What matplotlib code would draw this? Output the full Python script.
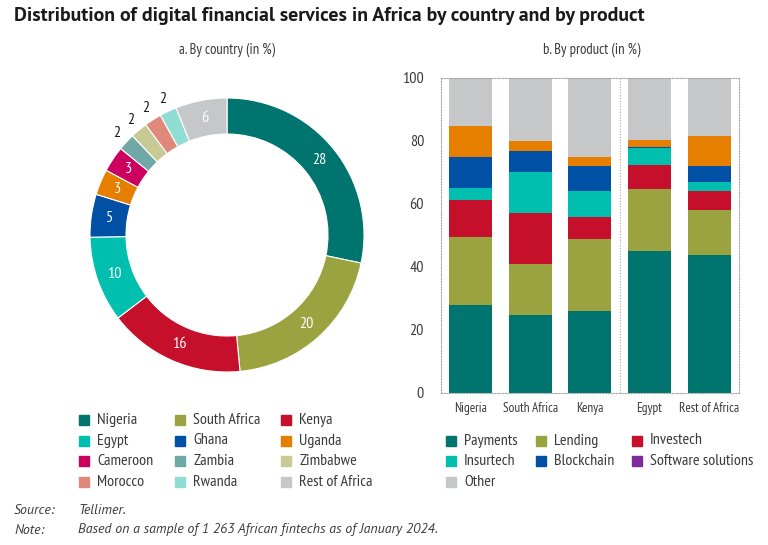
import numpy as np
import matplotlib.pyplot as plt
from matplotlib.patches import Rectangle
from matplotlib import font_manager

names = {f.name for f in font_manager.fontManager.ttflist}


def pick(cands):
    for c in cands:
        if c in names:
            return c
    return 'DejaVu Sans'


FONT = pick(['PT Sans Narrow', 'Roboto Condensed', 'Open Sans Condensed', 'Archivo Narrow',
             'Fira Sans Condensed', 'Liberation Sans Narrow'])
TITLE_FONT = pick(['PT Sans', 'Source Sans 3', 'Source Sans Pro', 'Open Sans'])
plt.rcParams['font.family'] = [FONT, 'DejaVu Sans']

# a. by country
countries = ['Nigeria', 'South Africa', 'Kenya', 'Egypt', 'Ghana', 'Uganda',
             'Cameroon', 'Zambia', 'Zimbabwe', 'Morocco', 'Rwanda', 'Rest of Africa']
country_share = [28, 20, 16, 10, 5, 3, 3, 2, 2, 2, 2, 6]
country_colors = ['#00756f', '#9ba340', '#c50f2b', '#00bfae', '#0050a5', '#e67e00',
                  '#cc005f', '#70a8a7', '#c8ca96', '#e0897a', '#8fddd3', '#c6c7c9']

# b. by product
bar_groups = ['Nigeria', 'South Africa', 'Kenya', 'Egypt', 'Rest of Africa']
products = ['Payments', 'Lending', 'Investech', 'Insurtech', 'Blockchain',
            'Software solutions', 'Other']
payments = [27.8, 24.6, 25.9, 45.0, 43.7]
lending = [21.7, 16.3, 23.0, 19.7, 14.3]
investech = [11.6, 16.2, 7.0, 7.5, 5.9]
insurtech = [4.0, 13.0, 8.1, 5.6, 3.1]
blockchain = [9.6, 6.5, 8.0, 0.3, 5.0]
software = [9.9, 3.2, 2.9, 2.1, 9.6]
other = [15.4, 20.3, 25.1, 19.8, 18.4]
product_series = [payments, lending, investech, insurtech, blockchain, software, other]
# bars use orange for software solutions, the legend key shows purple
bar_colors = ['#00756f', '#9ba340', '#c50f2b', '#00bfae', '#0050a5', '#e67e00', '#c6c7c9']
legend_colors = ['#00756f', '#9ba340', '#c50f2b', '#00bfae', '#0050a5', '#7f2a9b', '#c6c7c9']

W, H = 768, 545
fig = plt.figure(figsize=(W / 100, H / 100), dpi=100)
txt = '#3a3a3a'


def fx(px):
    return px / W


def fy(py):
    return 1 - py / H


fig.text(fx(14), fy(16), 'Distribution of digital financial services in Africa by country and by product',
         fontsize=14.3, fontweight='bold', color='#1a1a1a', va='center', ha='left',
         family=[TITLE_FONT, 'DejaVu Sans'])
fig.text(fx(227), fy(50), 'a. By country (in %)', fontsize=10.5, color=txt, ha='center', va='center')
fig.text(fx(592), fy(50), 'b. By product (in %)', fontsize=10.5, color=txt, ha='center', va='center')

# donut
cx, cy, box = 227, 235, 150
ax1 = fig.add_axes([fx(cx - box), fy(cy + box), 2 * box / W, 2 * box / H])
r_out = 137 / box
r_w = 36 / box
wedges, _ = ax1.pie(country_share, colors=country_colors, startangle=90, counterclock=False,
                    radius=r_out, wedgeprops=dict(width=r_w, edgecolor='white', linewidth=0.8))
ax1.set_aspect('equal')
ax1.set_xlim(-1, 1)
ax1.set_ylim(-1, 1)
ax1.axis('off')
for w, v in zip(wedges, country_share):
    ang = np.deg2rad((w.theta1 + w.theta2) / 2)
    if v > 2:
        r = r_out - r_w / 2
        ax1.text(r * np.cos(ang), r * np.sin(ang), str(v), color='white', fontsize=11.5,
                 ha='center', va='center')
    else:
        r = r_out + 0.09
        ax1.text(r * np.cos(ang), r * np.sin(ang), str(v), color='#1a1a1a', fontsize=11.5,
                 ha='center', va='center')

# stacked bars
ax2 = fig.add_axes([fx(440.7), fy(392.7), (739 - 440.7) / W, (392.7 - 77.7) / H])
x = np.arange(len(bar_groups))
bottom = np.zeros(len(bar_groups))
for name, vals, c in zip(products, product_series, bar_colors):
    ax2.bar(x, vals, 0.72, bottom=bottom, color=c, label=name, linewidth=0)
    bottom += np.array(vals)
ax2.set_xlim(-0.5, 4.5)
ax2.set_ylim(0, 100)
ax2.set_yticks([0, 20, 40, 60, 80, 100])
ax2.set_xticks(x)
ax2.set_xticklabels(bar_groups)
ax2.tick_params(length=0, colors=txt)
ax2.tick_params(axis='x', labelsize=9.5, pad=7)
ax2.tick_params(axis='y', labelsize=11.5, pad=12)
for s in ['top', 'left', 'right', 'bottom']:
    ax2.spines[s].set_linestyle((0, (1, 1.5)))
    ax2.spines[s].set_color('#a8a8a8')
    ax2.spines[s].set_linewidth(0.8)
ax2.axvline(2.5, color='#a8a8a8', linestyle=(0, (1, 1.5)), linewidth=0.8)


# legends
def legend_block(labels, colors, xs, ys, ncol):
    for i, (lab, c) in enumerate(zip(labels, colors)):
        col, row = i % ncol, i // ncol
        px, py = xs[col], ys[row]
        fig.patches.append(Rectangle((fx(px - 5), fy(py + 5)), 10 / W, 10 / H,
                                     color=c, transform=fig.transFigure, figure=fig))
        fig.text(fx(px + 13), fy(py), lab, fontsize=11.5, color=txt, ha='left', va='center')


legend_block(countries, country_colors, [84, 180, 286], [420, 440.5, 461, 481.5], 3)
legend_block(products, legend_colors, [451, 541, 637], [440.5, 461, 481.5], 3)

note_font = [TITLE_FONT, 'DejaVu Sans']
fig.text(fx(14), fy(511), 'Source:', fontsize=10, style='italic', color=txt, va='center', family=note_font)
fig.text(fx(78), fy(511), 'Tellimer.', fontsize=10, style='italic', color=txt, va='center', family=note_font)
fig.text(fx(14), fy(530), 'Note:', fontsize=10, style='italic', color=txt, va='center', family=note_font)
fig.text(fx(78), fy(530), 'Based on a sample of 1 263 African fintechs as of January 2024.',
         fontsize=10, style='italic', color=txt, va='center', family=note_font)

fig.savefig('out.png', dpi=100)
